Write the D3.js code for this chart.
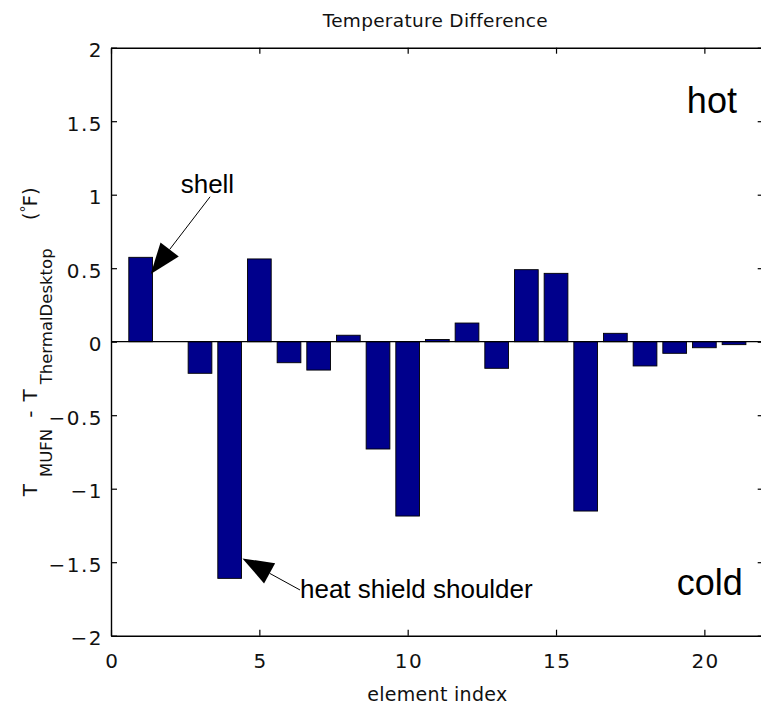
<!DOCTYPE html>
<html>
<head>
<meta charset="utf-8">
<script src="https://cdn.jsdelivr.net/npm/d3@7/dist/d3.min.js"></script>
<style>
  html, body { margin: 0; padding: 0; background: #fff; }
  svg { display: block; }
</style>
</head>
<body>
<script>
// Temperature difference per element (MUFN minus ThermalDesktop), in °F
const elementIndex = [1, 2, 3, 4, 5, 6, 7, 8, 9, 10, 11, 12, 13, 14, 15, 16, 17, 18, 19, 20, 21];
const tempDiff = [0.574, 0, -0.215, -1.61, 0.563, -0.143, -0.193, 0.044, -0.73, -1.186, 0.015,
                  0.127, -0.181, 0.49, 0.465, -1.152, 0.057, -0.165, -0.079, -0.041, -0.02];
const xTickValues = [0, 5, 10, 15, 20];
const yTickValues = [-2, -1.5, -1, -0.5, 0, 0.5, 1, 1.5, 2];
const xDomain = [0, 22];
const yDomain = [-2, 2];

// Callouts: label text, label anchor, arrow start and arrow tip (data units)
const calloutText = ["shell", "heat shield shoulder"];
const calloutAt = [[3.25, 1.01], [6.37, -1.746]];
const calloutAnchor = ["middle", "start"];
const arrowFrom = [[3.34, 0.986], [6.37, -1.689]];
const arrowTo = [[1.34, 0.46], [4.43, -1.474]];
// Region notes
const noteText = ["hot", "cold"];
const noteAt = [[19.41, 1.556], [19.07, -1.723]];

const W = 761, H = 707;
const plot = { left: 111, right: 763.7, top: 47.7, bottom: 635.7 };

const svg = d3.select("body").append("svg")
  .attr("width", W).attr("height", H)
  .style("background", "#fff");

const x = d3.scaleLinear().domain(xDomain).range([plot.left, plot.right]);
const y = d3.scaleLinear().domain(yDomain).range([plot.bottom, plot.top]);

const axisFont = "'DejaVu Sans', sans-serif";
const noteFont = "'Liberation Sans', Arial, sans-serif";
const barWidth = 0.8;

// Bars
svg.append("g")
  .selectAll("rect")
  .data(elementIndex)
  .join("rect")
  .attr("x", (d) => x(d - barWidth / 2))
  .attr("width", x(barWidth) - x(0))
  .attr("y", (d, i) => y(Math.max(0, tempDiff[i])))
  .attr("height", (d, i) => Math.abs(y(tempDiff[i]) - y(0)))
  .attr("fill", "#00008c")
  .attr("stroke", "#000")
  .attr("stroke-width", 0.9);

// Baseline at zero
svg.append("line")
  .attr("x1", x(xDomain[0])).attr("x2", x(xDomain[1]))
  .attr("y1", y(0)).attr("y2", y(0))
  .attr("stroke", "#000").attr("stroke-width", 1.2);

// Axes (ticks point inward, box on all four sides)
const tickLen = 6;
function styleAxis(g) {
  g.selectAll(".domain").attr("stroke", "#000").attr("stroke-width", 1.4);
  g.selectAll(".tick line").attr("stroke", "#000").attr("stroke-width", 1.2);
  g.selectAll(".tick text")
    .attr("fill", "#111")
    .style("font-family", axisFont)
    .style("font-size", "20px")
    .style("letter-spacing", "1.5px");
}

svg.append("g")
  .attr("transform", `translate(0,${plot.bottom})`)
  .call(d3.axisBottom(x).tickValues(xTickValues).tickSizeInner(-tickLen).tickSizeOuter(0)
        .tickPadding(18).tickFormat(d3.format("d")))
  .call(styleAxis)
  .call((g) => g.selectAll(".tick text").attr("dx", "0.75px"));

svg.append("g")
  .attr("transform", `translate(0,${plot.top})`)
  .call(d3.axisTop(x).tickValues(xTickValues).tickSizeInner(-tickLen).tickSizeOuter(0).tickFormat(""))
  .call(styleAxis);

svg.append("g")
  .attr("transform", `translate(${plot.left},0)`)
  .call(d3.axisLeft(y).tickValues(yTickValues).tickSizeInner(-tickLen).tickSizeOuter(0)
        .tickPadding(8).tickFormat(d3.format("")))
  .call(styleAxis)
  .call((g) => g.selectAll(".tick text").attr("dy", "0.45em"));

svg.append("g")
  .attr("transform", `translate(${plot.right},0)`)
  .call(d3.axisRight(y).tickValues(yTickValues).tickSizeInner(-tickLen).tickSizeOuter(0).tickFormat(""))
  .call(styleAxis);

// Title
svg.append("text")
  .attr("x", (plot.left + plot.right) / 2 - 2)
  .attr("y", 27)
  .attr("text-anchor", "middle")
  .attr("fill", "#111")
  .style("font-family", axisFont)
  .style("font-size", "18.5px")
  .style("letter-spacing", "0.3px")
  .text("Temperature Difference");

// X axis label
svg.append("text")
  .attr("x", (plot.left + plot.right) / 2)
  .attr("y", 701)
  .attr("text-anchor", "middle")
  .attr("fill", "#111")
  .style("font-family", axisFont)
  .style("font-size", "19px")
  .style("letter-spacing", "0.3px")
  .text("element index");

// Y axis label: pieces laid out one after another along the rotated baseline.
// Each piece: text, font size, baseline offset (positive = lowered), gap before it.
const ylabelPieces = [
  ["T", 20, 0, 0],
  ["MUFN", 16.5, 15, 7],
  ["-", 20, 0, 11],
  ["T", 20, 0, 9],
  ["ThermalDesktop", 16.5, 15, 5],
  ["(", 20, 0, 28],
  ["\u00B0", 14, -6, 0],
  ["F)", 20, 0, -1]
];
const ylab = svg.append("g");
let cursor = 0;
ylabelPieces.forEach(([txt, size, shift, gap]) => {
  cursor += gap;
  const t = ylab.append("text")
    .attr("x", cursor).attr("y", shift)
    .attr("fill", "#111")
    .style("font-family", axisFont)
    .style("font-size", size + "px")
    .text(txt);
  cursor += t.node().getComputedTextLength();
});
ylab.attr("transform",
  `translate(37,${(plot.top + plot.bottom) / 2}) rotate(-90) translate(${-cursor / 2},0)`);

// Callout arrows
const headLen = 31, headHalf = 11.5;
calloutText.forEach((label, i) => {
  const x0 = x(arrowFrom[i][0]), y0 = y(arrowFrom[i][1]);
  const x1 = x(arrowTo[i][0]), y1 = y(arrowTo[i][1]);
  const len = Math.hypot(x1 - x0, y1 - y0);
  const ux = (x1 - x0) / len, uy = (y1 - y0) / len;
  const bx = x1 - ux * headLen, by = y1 - uy * headLen;
  svg.append("line")
    .attr("x1", x0).attr("y1", y0).attr("x2", bx).attr("y2", by)
    .attr("stroke", "#000").attr("stroke-width", 1);
  svg.append("polygon")
    .attr("points", [[x1, y1], [bx - uy * headHalf, by + ux * headHalf], [bx + uy * headHalf, by - ux * headHalf]]
      .map((p) => p.join(",")).join(" "))
    .attr("fill", "#000");
  svg.append("text")
    .attr("x", x(calloutAt[i][0])).attr("y", y(calloutAt[i][1]))
    .attr("text-anchor", calloutAnchor[i])
    .attr("fill", "#000")
    .style("font-family", noteFont)
    .style("font-size", "26px")
    .text(label);
});

// Hot / cold notes
noteText.forEach((label, i) => {
  svg.append("text")
    .attr("x", x(noteAt[i][0])).attr("y", y(noteAt[i][1]))
    .attr("fill", "#000")
    .style("font-family", noteFont)
    .style("font-size", "36px")
    .text(label);
});
</script>
</body>
</html>
